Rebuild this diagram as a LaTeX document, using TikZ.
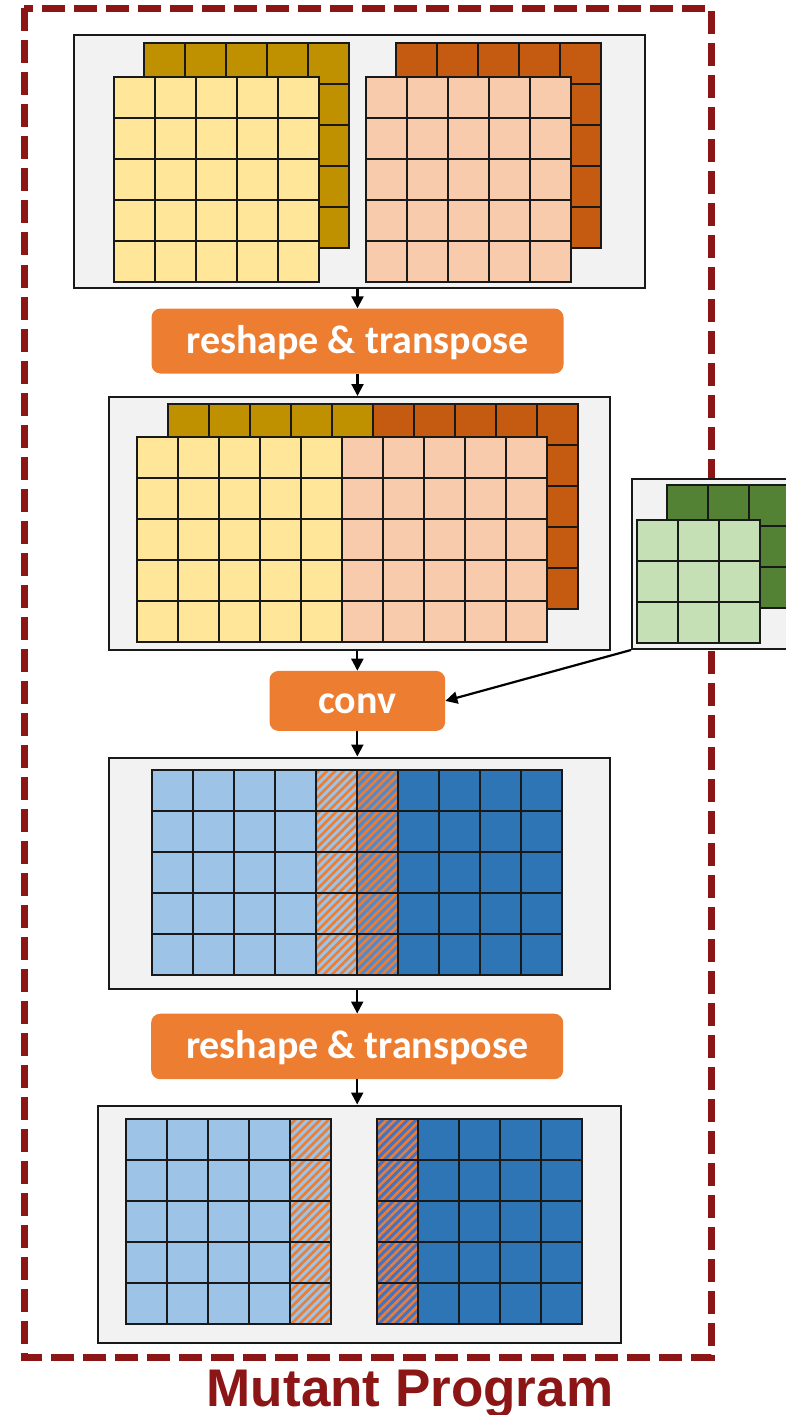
\documentclass[tikz,border=0pt]{standalone}
\usepackage{fontspec}
\newfontfamily\boxfont{Carlito}
\newfontfamily\titlefont{Liberation Sans}
\usetikzlibrary{arrows.meta,patterns.meta}

\definecolor{panelgray}{HTML}{F2F2F2}
\definecolor{golddark}{HTML}{BF9000}
\definecolor{goldlight}{HTML}{FFE699}
\definecolor{rustdark}{HTML}{C55A11}
\definecolor{peach}{HTML}{F8CBAD}
\definecolor{greendark}{HTML}{548235}
\definecolor{greenlight}{HTML}{C5E0B4}
\definecolor{bluelight}{HTML}{9DC3E6}
\definecolor{bluemid}{HTML}{5288CC}
\definecolor{bluepurple}{HTML}{4472C4}
\definecolor{bluedark}{HTML}{2E75B6}
\definecolor{opor}{HTML}{ED7D31}
\definecolor{framered}{HTML}{8C1515}

% a block of square cells: x, y, columns, rows, fill
\newcommand\cellblock[5]{%
  \foreach \ci in {1,...,#3}{%
    \foreach \cj in {1,...,#4}{%
      \draw[cell,fill=#5] ({#1+41*(\ci-1)},{#2+41*(\cj-1)}) rectangle ++(41,41);
    }%
  }%
}
% one column of five hatched cells: x, y, base fill
\newcommand\hatchcolumn[3]{%
  \foreach \cj in {1,...,5}{%
    \fill[#3] (#1,{#2+41*(\cj-1)}) rectangle ++(41,41);
    \fill[hatch] (#1,{#2+41*(\cj-1)}) rectangle ++(41,41);
    \draw[cell] (#1,{#2+41*(\cj-1)}) rectangle ++(41,41);
  }%
}

\begin{document}
\begin{tikzpicture}[x=1pt,y=-1pt,
  panel/.style={draw=black!90, line width=2pt, fill=panelgray, anchor=north west, inner sep=0pt},
  opbox/.style={fill=opor, rounded corners=9pt, text=white, anchor=north west, inner sep=0pt,
    font=\boxfont\bfseries\fontsize{40}{40}\selectfont, text height=29pt, text depth=4pt},
  link/.style={line width=2.2pt, -{Triangle[length=12pt,width=12pt]}},
  cell/.style={line width=2pt, draw=black!90},
  hatch/.style={pattern={Lines[angle=45,distance=5.9pt,line width=2.6pt]}, pattern color=opor},
  progframe/.style={draw=framered, line width=7pt, dash pattern=on 23pt off 9pt},
]
\clip (0,0) rectangle (786,1415);

% dashed program frame and its caption
\draw[progframe] (24,8.5) rectangle (711.5,1357.5);
\node[font=\titlefont\bfseries\fontsize{53}{53}\selectfont, text=framered, anchor=base] (title) at (410,1406) {Mutant Program};

% panels and operations
\node[panel, minimum width=571.5pt, minimum height=252.5pt] (in1) at (72.5,34.5) {};
\node[opbox, minimum width=412pt, minimum height=65pt] (rs1) at (151.3,308.3) {reshape \& transpose};
\node[panel, minimum width=501pt, minimum height=253pt] (mid2) at (108,396) {};
\node[panel, minimum width=180pt, minimum height=170.5pt] (kern) at (631,477.5) {};
\node[opbox, minimum width=175.7pt, minimum height=60pt] (conv) at (269.3,670.7) {conv};
\node[panel, minimum width=501pt, minimum height=231.5pt] (out1) at (108,756.5) {};
\node[opbox, minimum width=412pt, minimum height=65.5pt] (rs2) at (151,1013.5) {reshape \& transpose};
\node[panel, minimum width=523pt, minimum height=237.5pt] (out2) at (96.5,1104.5) {};

% connectors
\draw[link] (rs1.north |- in1.south) -- (rs1.north);
\draw[link] (rs1.south) -- (rs1.south |- mid2.north);
\draw[link] (conv.north |- mid2.south) -- (conv.north);
\draw[link] (kern.south west) -- (conv.east);
\draw[link] (conv.south) -- (conv.south |- out1.north);
\draw[link] (rs2.north |- out1.south) -- (rs2.north);
\draw[link] (rs2.south) -- (rs2.south |- out2.north);

% input tensors
\cellblock{144}{43}{5}{5}{golddark}
\cellblock{113.5}{77.3}{5}{5}{goldlight}
\cellblock{396}{43}{5}{5}{rustdark}
\cellblock{366}{77.3}{5}{5}{peach}

% reshaped input
\cellblock{168}{403.5}{5}{5}{golddark}
\cellblock{373}{403.5}{5}{5}{rustdark}
\cellblock{137}{437}{5}{5}{goldlight}
\cellblock{342}{437}{5}{5}{peach}

% kernel
\cellblock{667.3}{484.7}{3}{3}{greendark}
\cellblock{637.3}{519.7}{3}{3}{greenlight}

% convolution output
\cellblock{152}{770}{4}{5}{bluelight}
\hatchcolumn{316}{770}{bluelight}
\hatchcolumn{357}{770}{bluemid}
\cellblock{398}{770}{4}{5}{bluedark}

% final output
\cellblock{126}{1119}{4}{5}{bluelight}
\hatchcolumn{290}{1119}{bluelight}
\hatchcolumn{377}{1119}{bluepurple}
\cellblock{418}{1119}{4}{5}{bluedark}
\end{tikzpicture}
\end{document}
